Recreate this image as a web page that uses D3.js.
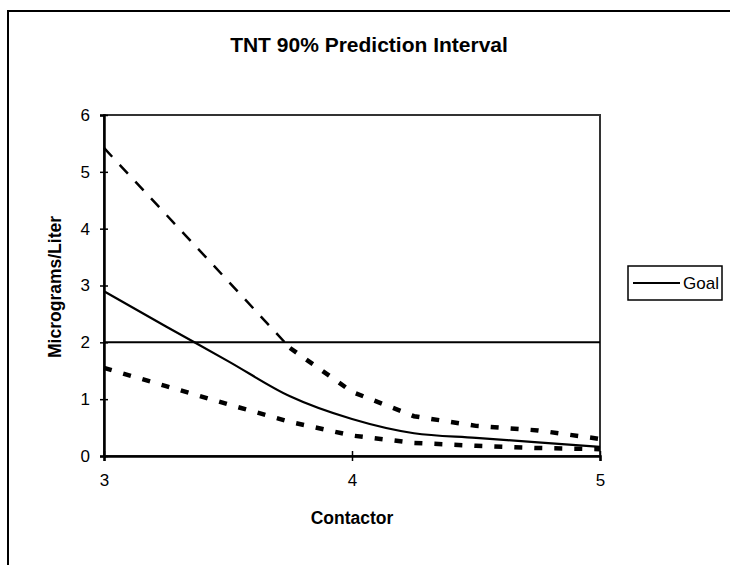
<!DOCTYPE html>
<html>
<head>
<meta charset="utf-8">
<script src="https://cdn.jsdelivr.net/npm/d3@7"></script>
<style>
    body { margin: 0; background: #fff; }
    text { font-family: Arial, "Liberation Sans", Helvetica, sans-serif; fill: #000; }
</style>
</head>
<body>
<div id="chart"></div>
<script>
'use strict';

// data
var contactor = [3, 3.25, 3.5, 3.75, 4, 4.25, 4.5, 4.75, 5];
var predicted = [2.9, 2.28, 1.67, 1.05, 0.65, 0.4, 0.32, 0.24, 0.16];
var upperLimit = [5.42, 4.25, 3.08, 1.9, 1.13, 0.7, 0.53, 0.45, 0.3];
var lowerLimit = [1.55, 1.23, 0.91, 0.6, 0.36, 0.23, 0.18, 0.14, 0.12];
var goalValue = 2;
var xTicks = [3, 4, 5];
var yTicks = [0, 1, 2, 3, 4, 5, 6];
var legendNames = ["Goal"];

var width = 730,
    height = 565;

var svg = d3.select("#chart").append("svg")
    .attr("width", width)
    .attr("height", height);

// outer frame of the sheet
svg.append("path")
    .attr("d", "M8,566V11H731")
    .attr("fill", "none")
    .attr("stroke", "#000")
    .attr("stroke-width", 2);

var x = d3.scaleLinear().domain([3, 5]).range([104, 600]);
var y = d3.scaleLinear().domain([0, 6]).range([456, 115]);

function points(values) {
    return contactor.map(function (c, i) {
        return { x: c, y: values[i], i: i };
    });
}

var line = d3.line()
    .x(function (d) { return x(d.x); })
    .y(function (d) { return y(d.y); });

// plot area frame (top / right)
svg.append("rect")
    .attr("x", x(3))
    .attr("y", y(6))
    .attr("width", x(5) - x(3))
    .attr("height", y(0) - y(6))
    .attr("fill", "none")
    .attr("stroke", "#333")
    .attr("stroke-width", 2);

// goal line
svg.append("line")
    .attr("x1", x(3))
    .attr("x2", x(5))
    .attr("y1", y(goalValue))
    .attr("y2", y(goalValue))
    .attr("stroke", "#000")
    .attr("stroke-width", 2);

// upper limit: thin long dashes, then heavier short dashes past 3.75
var upper = points(upperLimit);
svg.append("path")
    .datum(upper.filter(function (d) { return d.i <= 3; }))
    .attr("d", line)
    .attr("fill", "none")
    .attr("stroke", "#000")
    .attr("stroke-width", 2.5)
    .attr("stroke-dasharray", "12,11");

svg.append("path")
    .datum(upper.filter(function (d) { return d.i >= 3; }))
    .attr("d", line)
    .attr("fill", "none")
    .attr("stroke", "#000")
    .attr("stroke-width", 4.5)
    .attr("stroke-dasharray", "8,12");

svg.append("path")
    .datum(points(lowerLimit))
    .attr("d", line)
    .attr("fill", "none")
    .attr("stroke", "#000")
    .attr("stroke-width", 4.5)
    .attr("stroke-dasharray", "8,12");

svg.append("path")
    .datum(points(predicted))
    .attr("d", line.curve(d3.curveMonotoneX))
    .attr("fill", "none")
    .attr("stroke", "#000")
    .attr("stroke-width", 2.2);

// axes
var yAxis = svg.append("g")
    .attr("transform", "translate(" + x(3) + ",0)")
    .call(d3.axisLeft(y).tickValues(yTicks).tickSize(4).tickPadding(10).tickFormat(d3.format("d")));

yAxis.selectAll(".tick line").attr("x1", 4).attr("stroke-width", 1.5);
yAxis.select(".domain").attr("stroke-width", 2.5);
yAxis.selectAll("text").style("font-size", "17px");

var xAxis = svg.append("g")
    .attr("transform", "translate(0," + y(0) + ")")
    .call(d3.axisBottom(x).tickValues(xTicks).tickSize(5).tickPadding(13).tickFormat(d3.format("d")));

xAxis.selectAll(".tick line").attr("y1", -5).attr("stroke-width", 1.5);
xAxis.select(".domain").attr("stroke-width", 2.5);
xAxis.selectAll("text").style("font-size", "17px");

// titles
svg.append("text")
    .attr("x", 369)
    .attr("y", 52)
    .attr("text-anchor", "middle")
    .style("font-size", "21px")
    .style("font-weight", "bold")
    .text("TNT 90% Prediction Interval");

svg.append("text")
    .attr("transform", "translate(61,287) rotate(-90)")
    .attr("text-anchor", "middle")
    .style("font-size", "17.5px")
    .style("font-weight", "bold")
    .text("Micrograms/Liter");

svg.append("text")
    .attr("x", 352)
    .attr("y", 524)
    .attr("text-anchor", "middle")
    .style("font-size", "17.5px")
    .style("font-weight", "bold")
    .text("Contactor");

// legend
var legend = svg.append("g")
    .attr("transform", "translate(628,266)");

legend.append("rect")
    .attr("width", 94)
    .attr("height", 34)
    .attr("fill", "#fff")
    .attr("stroke", "#000")
    .attr("stroke-width", 1.5);

legend.selectAll(".legend-item")
    .data(legendNames)
    .enter()
    .append("g")
    .attr("class", "legend-item")
    .each(function (d) {
        var g = d3.select(this);
        g.append("line")
            .attr("x1", 5)
            .attr("x2", 52)
            .attr("y1", 17)
            .attr("y2", 17)
            .attr("stroke", "#000")
            .attr("stroke-width", 1.8);
        g.append("text")
            .attr("x", 55)
            .attr("y", 23)
            .style("font-size", "17px")
            .text(d);
    });
</script>
</body>
</html>
